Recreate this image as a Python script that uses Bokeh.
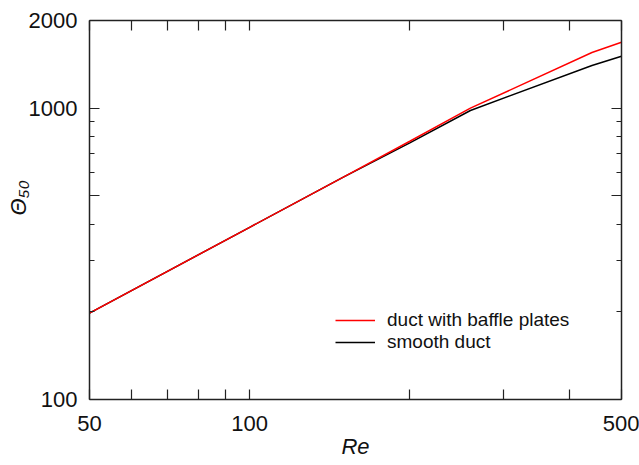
from bokeh.plotting import figure
from bokeh.models import LogAxis, FixedTicker, Legend, LegendItem, Range1d
from bokeh.embed import file_html
from bokeh.resources import INLINE

# data
re_vals = [50, 100, 150, 200, 260, 440, 500]
theta_baffle = [198, 390, 580, 770, 1000, 1553, 1685]
theta_smooth = [198, 390, 580, 760, 982, 1402, 1508]

x_major = [50, 60, 70, 80, 90, 100, 200, 300, 400, 500]
x_labels = {50: "50", 100: "100", 500: "500"}
y_major = [100, 500, 1000, 2000]
y_minor = [200, 300, 400, 600, 700, 800, 900]
y_labels = {100: "100", 1000: "1000", 2000: "2000"}

FONT = "Liberation Sans"
NBSP = "\u00a0"

p = figure(width=639, height=465, x_axis_type="log", y_axis_type="log",
           x_range=Range1d(50, 500), y_range=Range1d(100, 2000),
           output_backend="svg", toolbar_location=None,
           frame_width=532, frame_height=379,
           min_border_left=89, min_border_right=18, min_border_top=20, min_border_bottom=66)
p.background_fill_color = "white"
p.border_fill_color = "white"
p.outline_line_color = None
p.xgrid.visible = False
p.ygrid.visible = False

def style(ax, ticks, minor, labels, show):
    ax.ticker = FixedTicker(ticks=ticks, minor_ticks=minor)
    ax.major_label_overrides = {t: labels.get(t, "") for t in ticks}
    ax.major_tick_in = 10
    ax.major_tick_out = 0
    ax.minor_tick_in = 5
    ax.minor_tick_out = 0
    ax.axis_line_width = 1.5
    ax.axis_line_color = "#222222"
    ax.major_tick_line_color = "#222222"
    ax.minor_tick_line_color = "#222222"
    ax.major_tick_line_width = 1.2
    ax.minor_tick_line_width = 1.2
    ax.major_label_text_font = FONT
    ax.major_label_text_font_size = "22px" if show else "0px"
    ax.major_label_text_color = "#111111"
    if not show:
        ax.major_label_standoff = 0

xa = p.xaxis[0]
ya = p.yaxis[0]
style(xa, x_major, [], x_labels, True)
style(ya, y_major, y_minor, y_labels, True)
xa.major_label_standoff = 16
ya.major_label_standoff = 12
xa.axis_label = "Re"
xa.axis_label_text_font = FONT
xa.axis_label_text_font_style = "italic"
xa.axis_label_text_font_size = "22px"
xa.axis_label_text_color = "#111111"
xa.axis_label_standoff = 0

ya.axis_label = NBSP * 4 + "Θ₅₀"
ya.axis_label_text_font = FONT
ya.axis_label_text_font_style = "italic"
ya.axis_label_text_font_size = "22px"
ya.axis_label_text_color = "#111111"
ya.axis_label_standoff = -5

top = LogAxis()
right = LogAxis()
style(top, x_major, [], {}, False)
style(right, y_major, y_minor, {}, False)
p.add_layout(top, "above")
p.add_layout(right, "right")

r2 = p.line(re_vals, theta_smooth, line_color="#000000", line_width=1.5)
r1 = p.line(re_vals, theta_baffle, line_color="#ff0000", line_width=1.5)

legend = Legend(items=[LegendItem(label="duct with baffle plates", renderers=[r1]),
                       LegendItem(label="smooth duct", renderers=[r2])],
                location=(246, 46), padding=0, margin=0, spacing=0,
                label_height=20, glyph_height=20, glyph_width=40, label_standoff=12,
                label_text_font=FONT, label_text_font_size="19px",
                label_text_color="#111111",
                background_fill_alpha=0, border_line_color=None)
p.add_layout(legend, "center")

open("out.html", "w").write(file_html(p, INLINE))
